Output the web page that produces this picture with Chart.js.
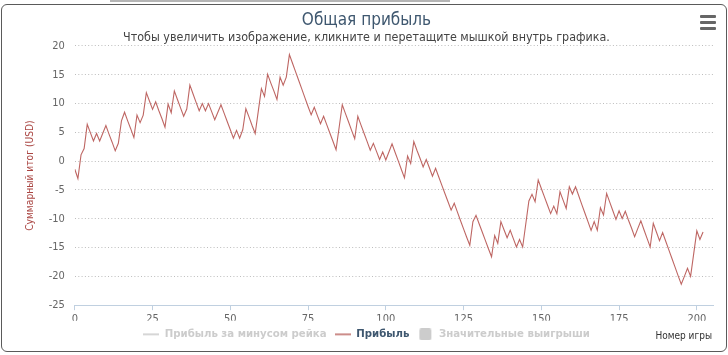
<!DOCTYPE html>
<html>
<head>
<meta charset="utf-8">
<script src="https://cdn.jsdelivr.net/npm/chart.js@4.4.0/dist/chart.umd.min.js"></script>
<style>
  html, body { margin: 0; padding: 0; background: #fff; width: 728px; height: 355px; overflow: hidden; }
  #topbar { position: absolute; left: 110px; top: 0; width: 340px; height: 2px; background: #b5b5b5; }
  #frame { position: absolute; left: 1px; top: 4px; width: 726px; height: 348px; border: 1px solid #5a5a5a; border-radius: 6px; box-sizing: border-box; }
  #chart { position: absolute; left: 0; top: 0; }
  .bar { position: absolute; left: 700px; width: 16px; height: 3px; background: #666; border-radius: 1px; }
</style>
</head>
<body>
<div id="topbar"></div>
<div id="frame"></div>
<canvas id="chart" width="728" height="355"></canvas>
<div class="bar" style="top:15px"></div>
<div class="bar" style="top:21px"></div>
<div class="bar" style="top:27px"></div>
<script>
// ---- data ----
const gameNumbers = [
  0,1,2,3,4,5,6,7,8,9,10,11,12,13,14,15,16,17,18,19,
  20,21,22,23,24,25,26,27,28,29,30,31,32,33,34,35,36,37,38,39,
  40,41,42,43,44,45,46,47,48,49,50,51,52,53,54,55,56,57,58,59,
  60,61,62,63,64,65,66,67,68,69,70,71,72,73,74,75,76,77,78,79,
  80,81,82,83,84,85,86,87,88,89,90,91,92,93,94,95,96,97,98,99,
  100,101,102,103,104,105,106,107,108,109,110,111,112,113,114,115,116,117,118,119,
  120,121,122,123,124,125,126,127,128,129,130,131,132,133,134,135,136,137,138,139,
  140,141,142,143,144,145,146,147,148,149,150,151,152,153,154,155,156,157,158,159,
  160,161,162,163,164,165,166,167,168,169,170,171,172,173,174,175,176,177,178,179,
  180,181,182,183,184,185,186,187,188,189,190,191,192,193,194,195,196,197,198,199,
  200,201,202
];
const profit = [
  -1.4, -3.0, 1.1, 2.2, 6.4, 4.95, 3.5, 4.8, 3.5, 4.85,
  6.2, 4.7, 3.3, 1.8, 3.1, 7.0, 8.5, 7.0, 5.6, 4.1,
  8.0, 6.7, 8.0, 11.9, 10.45, 9.0, 10.3, 8.8, 7.4, 5.9,
  9.9, 8.4, 12.2, 10.7, 9.25, 7.8, 9.05, 13.2, 11.7, 10.2,
  8.75, 10.0, 8.75, 10.0, 8.6, 7.2, 8.5, 9.8, 8.35, 6.9,
  5.45, 4.0, 5.35, 4.0, 5.45, 9.1, 7.7, 6.2, 4.8, 8.7,
  12.6, 11.25, 15.1, 13.6, 12.2, 10.7, 14.6, 13.2, 14.6, 18.5,
  17.0, 15.5, 14.0, 12.5, 11.0, 9.5, 8.05, 9.35, 7.9, 6.5,
  7.8, 6.35, 4.9, 3.45, 2.0, 5.9, 9.8, 8.3, 6.85, 5.35,
  3.9, 7.8, 6.3, 4.85, 3.4, 1.9, 3.1, 1.7, 0.3, 1.6,
  0.2, 1.6, 3.0, 1.5, 0.05, -1.45, -2.9, 0.9, -0.4, 3.4,
  1.9, 0.5, -1.0, 0.3, -1.15, -2.6, -1.25, -2.7, -4.15, -5.6,
  -7.05, -8.5, -7.3, -8.8, -10.3, -11.75, -13.2, -14.6, -10.5, -9.4,
  -10.85, -12.3, -13.75, -15.2, -16.6, -12.9, -14.25, -10.5, -11.9, -13.3,
  -12.0, -13.45, -14.9, -13.6, -14.9, -10.9, -6.9, -5.75, -7.05, -3.25,
  -4.75, -6.2, -7.65, -9.1, -7.8, -9.1, -5.3, -6.75, -8.2, -4.45,
  -5.7, -4.45, -5.95, -7.5, -9.0, -10.5, -12.0, -10.5, -12.0, -8.1,
  -9.35, -5.6, -7.1, -8.6, -10.1, -8.6, -9.95, -8.7, -10.2, -11.6,
  -13.1, -11.7, -10.35, -11.9, -13.4, -14.9, -10.8, -12.3, -13.8, -12.4,
  -13.9, -15.4, -16.9, -18.4, -19.9, -21.35, -20.0, -18.6, -20.0, -16.05,
  -12.1, -13.6, -12.3
];
const rakeProfit = [];     // hidden series (not shown in the picture)
const bigWins = [];        // hidden series (not shown in the picture)
const seriesNames = ['Прибыль за минусом рейка', 'Прибыль', 'Значительные выигрыши'];
const xTicks = [0, 25, 50, 75, 100, 125, 150, 175, 200];
const yTicks = [-25, -20, -15, -10, -5, 0, 5, 10, 15, 20];

const FONT = "'DejaVu Sans Condensed', 'DejaVu Sans', sans-serif";
Chart.defaults.font.family = FONT;

function makeIcon(kind, color) {
  const c = document.createElement('canvas');
  c.width = 16; c.height = 12;
  const g = c.getContext('2d');
  g.fillStyle = color;
  if (kind === 'line') {
    g.fillRect(0, 5, 16, 2);
  } else {
    g.beginPath();
    if (g.roundRect) g.roundRect(2, 0, 12, 12, 2); else g.rect(2, 0, 12, 12);
    g.fill();
  }
  return c;
}
const icons = [makeIcon('line', '#d6d6d6'), makeIcon('line', '#cc8d8a'), makeIcon('square', '#cccccc')];
const legendColors = ['#cccccc', '#3E576F', '#cccccc'];

const xTitlePlugin = {
  id: 'xTitle',
  afterDraw(chart) {
    const ctx = chart.ctx;
    ctx.save();
    ctx.font = '10px ' + FONT;
    ctx.fillStyle = '#333';
    ctx.textAlign = 'right';
    ctx.textBaseline = 'middle';
    ctx.fillText('Номер игры', 712, 336);
    ctx.restore();
  }
};

new Chart(document.getElementById('chart'), {
  type: 'line',
  data: {
    datasets: [
      { label: seriesNames[0], data: rakeProfit, hidden: true, borderColor: '#4572A7', pointRadius: 0 },
      {
        label: seriesNames[1],
        data: gameNumbers.map((g, i) => ({ x: g, y: profit[i] })),
        borderColor: '#be6663',
        borderWidth: 1.1,
        pointRadius: 0,
        tension: 0,
        fill: false
      },
      { label: seriesNames[2], data: bigWins, hidden: true, backgroundColor: '#89A54E', pointRadius: 0 }
    ]
  },
  options: {
    responsive: false,
    devicePixelRatio: 1,
    animation: false,
    events: [],
    layout: { padding: { left: 20, right: 15, top: 0, bottom: 5 } },
    plugins: {
      title: {
        display: true,
        text: 'Общая прибыль',
        color: '#3E576F',
        font: { size: 17, weight: 'normal' },
        padding: { top: 10, bottom: 0 }
      },
      subtitle: {
        display: true,
        text: 'Чтобы увеличить изображение, кликните и перетащите мышкой внутрь графика.',
        color: '#444',
        font: { size: 12.4, weight: 'normal' },
        padding: { top: 0, bottom: 0.7 }
      },
      legend: {
        display: true,
        position: 'bottom',
        onClick: null,
        labels: {
          usePointStyle: true,
          pointStyleWidth: 16,
          padding: 8,
          font: { size: 11.3, weight: 'bold' },
          generateLabels: () => seriesNames.map((name, i) => ({
            text: name,
            pointStyle: icons[i],
            fontColor: legendColors[i],
            fillStyle: 'transparent',
            strokeStyle: 'transparent',
            lineWidth: 0,
            hidden: false,
            datasetIndex: i
          }))
        }
      },
      tooltip: { enabled: false }
    },
    scales: {
      x: {
        type: 'linear',
        min: 0,
        max: 205.2,
        afterBuildTicks: (s) => { s.ticks = xTicks.map(v => ({ value: v })); },
        afterFit: (s) => { s.height = 15.5; },
        grid: { drawOnChartArea: false, drawTicks: true, tickLength: 5, color: '#C0D0E0' },
        border: { display: true, color: '#C0D0E0' },
        ticks: { color: '#666', font: { size: 11 }, padding: 2, maxRotation: 0, autoSkip: false }
      },
      y: {
        min: -25,
        max: 20,
        afterBuildTicks: (s) => { s.ticks = yTicks.map(v => ({ value: v })); },
        afterFit: (s) => { s.width = 54.8; },
        grid: { drawTicks: false, color: '#bdbdbd', lineWidth: 1 },
        border: { display: false, dash: [1, 2.3] },
        ticks: { color: '#666', font: { size: 11 }, padding: 10 },
        title: {
          display: true,
          text: 'Суммарный итог (USD)',
          color: '#AA4643',
          font: { size: 10.2 },
          padding: { top: 4, bottom: 0 }
        }
      }
    }
  },
  plugins: [xTitlePlugin]
});
</script>
</body>
</html>
